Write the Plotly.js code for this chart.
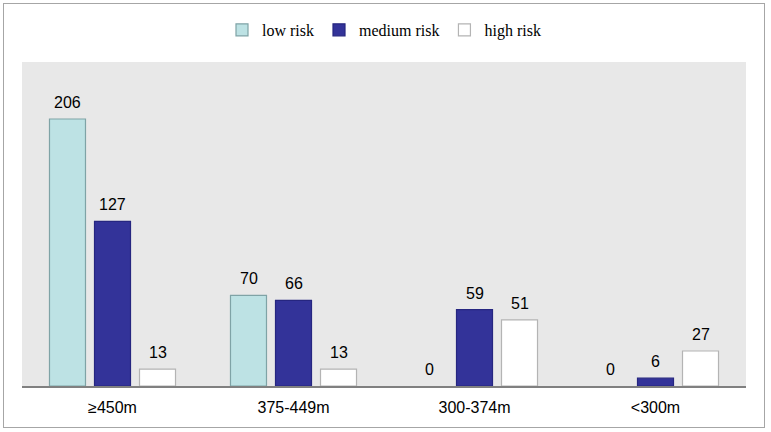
<!DOCTYPE html>
<html><head><meta charset="utf-8">
<script src="https://cdn.plot.ly/plotly-3.0.1.min.js"></script>
<style>
html,body{margin:0;padding:0;background:#fff;}
#wrap{position:relative;width:771px;height:432px;}
#chart{position:absolute;left:0;top:0;width:771px;height:432px;}
#frame{position:absolute;left:3px;top:3px;width:760px;height:423px;border:1.5px solid #a6a6a6;pointer-events:none;}
</style></head>
<body>
<div id="wrap"><div id="chart"></div><div id="frame"></div></div>
<script>
const categories = ['≥450m', '375-449m', '300-374m', '<300m'];
const seriesNames = ['low risk', 'medium risk', 'high risk'];
const lowRisk = [206, 70, 0, 0];
const mediumRisk = [127, 66, 59, 6];
const highRisk = [13, 13, 51, 27];

const fills = ['#bde2e4', '#333399', '#ffffff'];
const outlines = ['#7fa3a6', '#262680', '#b4b4b4'];
const values = [lowRisk, mediumRisk, highRisk];

const traces = values.map((v, i) => ({
  type: 'bar',
  name: seriesNames[i],
  x: categories,
  y: v,
  marker: {color: fills[i], line: {color: outlines[i], width: v.map(val => val === 0 ? 0 : 1.2)}},
  hoverinfo: 'none'
}));

// value labels above each bar (offset per series within the group)
const slotPx = 45;
const annotations = [];
values.forEach((v, i) => {
  v.forEach((val, j) => {
    annotations.push({
      x: categories[j], y: val, xref: 'x', yref: 'y',
      text: String(val), showarrow: false,
      xanchor: 'center', yanchor: 'bottom',
      xshift: (i - 1) * slotPx, yshift: 6,
      font: {family: 'Liberation Sans, Arial, sans-serif', size: 16, color: '#000'}
    });
  });
});

const layout = {
  width: 771, height: 432,
  margin: {l: 22, r: 25, t: 62, b: 46},
  paper_bgcolor: 'rgba(0,0,0,0)',
  plot_bgcolor: '#e8e8e8',
  barmode: 'group',
  bargap: 0.254,
  bargroupgap: 0.2,
  showlegend: true,
  annotations: annotations,
  legend: {
    orientation: 'h', x: 0.5, xanchor: 'center', y: 1.099, yanchor: 'middle',
    font: {family: 'Liberation Serif, Times New Roman, serif', size: 16, color: '#000'},
    itemwidth: 30, traceorder: 'normal'
  },
  xaxis: {
    type: 'category',
    showline: true, linecolor: '#808080', linewidth: 1.5,
    ticks: '', showgrid: false, ticklabelstandoff: 6,
    tickfont: {family: 'Liberation Sans, Arial, sans-serif', size: 16, color: '#000'}
  },
  yaxis: {
    range: [0, 250], showticklabels: false, showgrid: false, zeroline: false, ticks: ''
  }
};

Plotly.newPlot('chart', traces, layout, {displayModeBar: false, staticPlot: true});
</script>
</body></html>
